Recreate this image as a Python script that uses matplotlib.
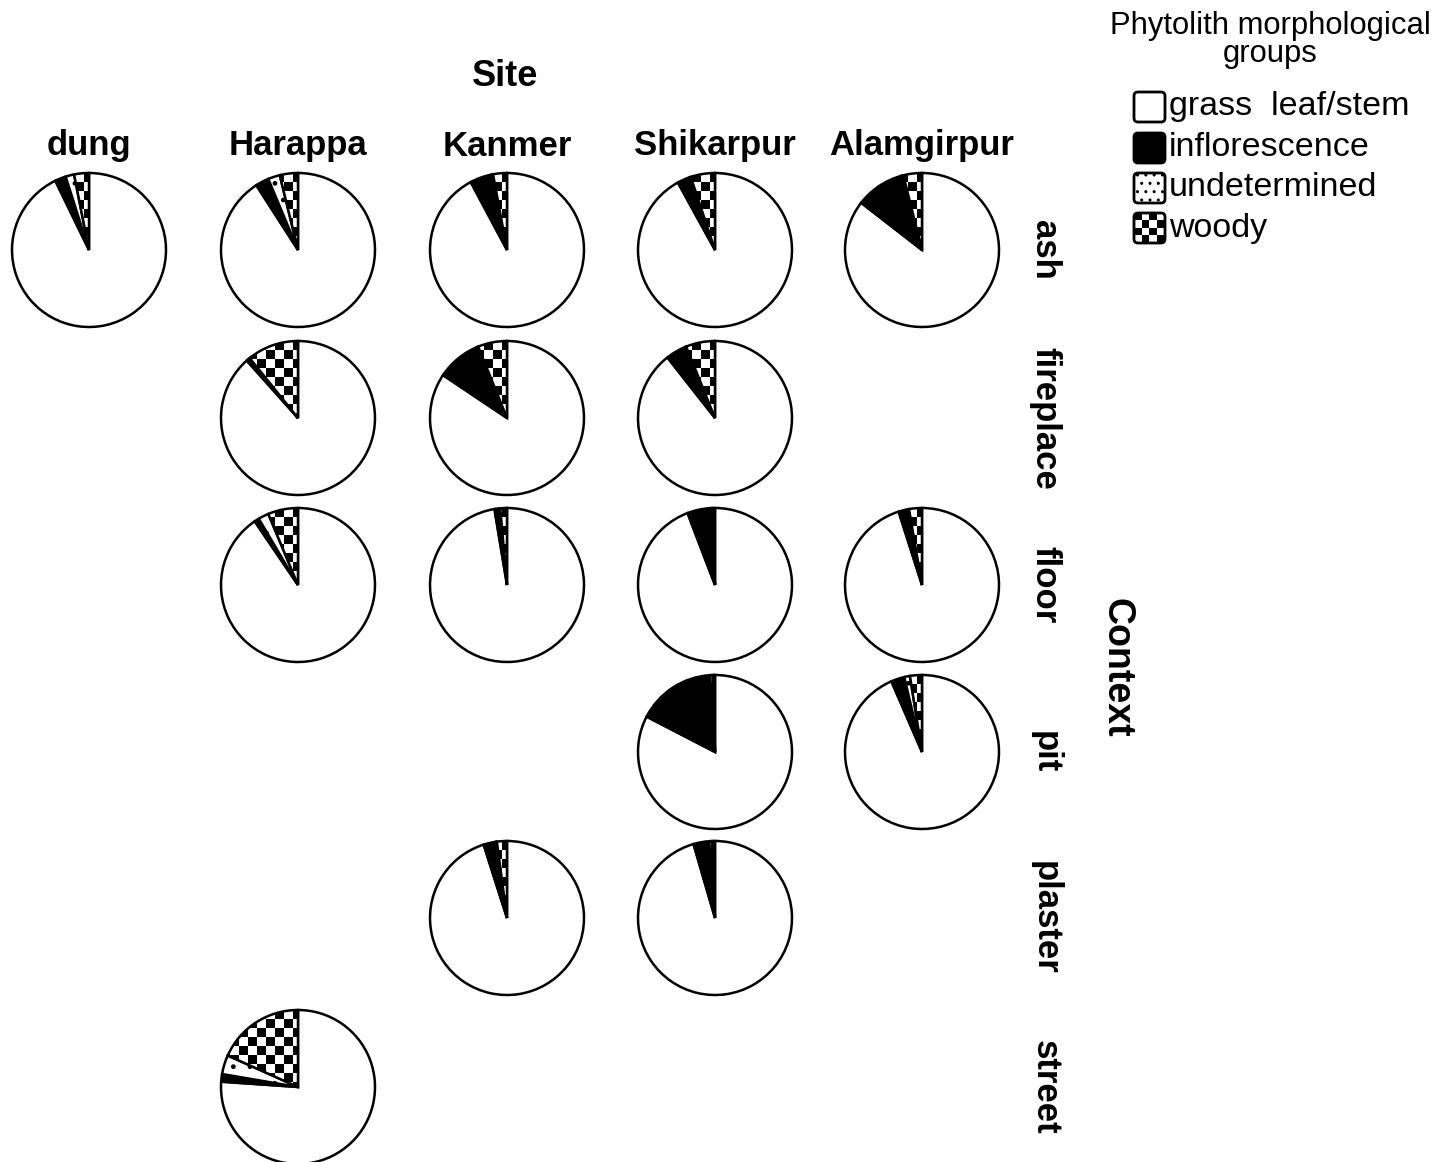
import numpy as np
import matplotlib
matplotlib.use("Agg")
import matplotlib.pyplot as plt
from matplotlib.patches import FancyBboxPatch

plt.rcParams["font.family"] = ["Liberation Sans", "DejaVu Sans"]
plt.rcParams["hatch.linewidth"] = 1.0

# ---------------- data ----------------
sites = ["dung", "Harappa", "Kanmer", "Shikarpur", "Alamgirpur"]
contexts = ["ash", "fireplace", "floor", "pit", "plaster", "street"]
groups = ["grass  leaf/stem", "inflorescence", "undetermined", "woody"]

sample_site = ["dung", "Harappa", "Kanmer", "Shikarpur", "Alamgirpur",
               "Harappa", "Kanmer", "Shikarpur",
               "Harappa", "Kanmer", "Shikarpur", "Alamgirpur",
               "Shikarpur", "Alamgirpur",
               "Kanmer", "Shikarpur",
               "Harappa"]
sample_context = ["ash", "ash", "ash", "ash", "ash",
                  "fireplace", "fireplace", "fireplace",
                  "floor", "floor", "floor", "floor",
                  "pit", "pit",
                  "plaster", "plaster",
                  "street"]
# percentages
grass = [92.8, 90.9, 92.2, 92.0, 85.5,
         88.4, 84.4, 89.4,
         90.5, 97.4, 94.2, 95.1,
         82.6, 93.5,
         95.1, 95.5,
         76.1]
inflorescence = [2.3, 2.8, 4.6, 2.6, 10.3,
                 0.4, 9.2, 4.3,
                 1.0, 1.0, 4.8, 2.0,
                 16.4, 2.8,
                 2.6, 3.3,
                 1.6]
undetermined = [1.8, 2.5, 0.3, 0.3, 0.3,
                0.4, 0.3, 0.2,
                2.2, 0.2, 0.4, 0.2,
                0.6, 1.2,
                0.2, 0.6,
                4.0]
woody = [3.1, 3.8, 2.9, 5.1, 3.9,
         10.8, 6.1, 6.1,
         6.3, 1.4, 0.6, 2.7,
         0.4, 2.5,
         2.1, 0.6,
         18.3]

# ---------------- layout ----------------
W, H = 1450, 1162
R = 77
col_x = dict(zip(sites, [89, 298, 507, 715, 922]))
row_y = dict(zip(contexts, [250, 418, 585, 752, 918, 1087]))

fig = plt.figure(figsize=(14.5, 11.62), dpi=100)
ax = fig.add_axes([0, 0, 1, 1])

ncell = 17
checker = (np.add.outer(np.arange(ncell), np.arange(ncell)) % 2).astype(float)

for i in range(len(sample_site)):
    vals = [grass[i], inflorescence[i], undetermined[i], woody[i]]
    cx = col_x[sample_site[i]]
    cy = H - row_y[sample_context[i]]
    wedges, _ = ax.pie(vals, colors=["white", "black", "white", "white"],
                       startangle=90, counterclock=False,
                       center=(cx, cy), radius=R, frame=True,
                       wedgeprops=dict(edgecolor="black", linewidth=1.8))
    wedges[2].set_hatch(".")
    wedges[3].set_facecolor("none")
    wedges[3].set_zorder(2)
    im = ax.imshow(checker, cmap="gray", vmin=0, vmax=1,
                   extent=[cx - R, cx + R, cy - R, cy + R],
                   interpolation="nearest", zorder=1.5)
    im.set_clip_path(wedges[3])

# titles
fs = 25
for s in sites:
    ax.text(col_x[s], H - 146, s, ha="center", va="center",
            fontsize=fs, fontweight="bold")
ax.text(505, H - 76, "Site", ha="center", va="center",
        fontsize=fs + 1, fontweight="bold")
for c in contexts:
    ax.text(1045, H - row_y[c], c, ha="center", va="center", rotation=-90,
            fontsize=fs, fontweight="bold")
ax.text(1117, H - 668, "Context", ha="center", va="center", rotation=-90,
        fontsize=fs + 2, fontweight="bold")

# legend
ax.text(1270, H - 40, "Phytolith morphological\ngroups", ha="center",
        va="center", fontsize=22.3, linespacing=0.92)
leg_y = [107, 148, 188, 228]
for k, (g, y) in enumerate(zip(groups, leg_y)):
    fc = ["white", "black", "white", "none"][k]
    box = FancyBboxPatch((1134, H - y - 15), 31, 30,
                         boxstyle="round,pad=0,rounding_size=4",
                         facecolor=fc, edgecolor="black", linewidth=2.0,
                         zorder=3)
    if k == 2:
        box.set_hatch("..")
    ax.add_patch(box)
    if k == 3:
        im = ax.imshow(checker[:4, :4], cmap="gray", vmin=0, vmax=1,
                       extent=[1134, 1165, H - y - 15, H - y + 15],
                       interpolation="nearest", zorder=2.5)
        im.set_clip_path(box)
    ax.text(1169, H - y, g, ha="left", va="center", fontsize=24.5)

ax.set_xlim(0, W)
ax.set_ylim(0, H)
ax.set_aspect("equal")
ax.axis("off")
fig.savefig("out.png", dpi=100, facecolor="white")
